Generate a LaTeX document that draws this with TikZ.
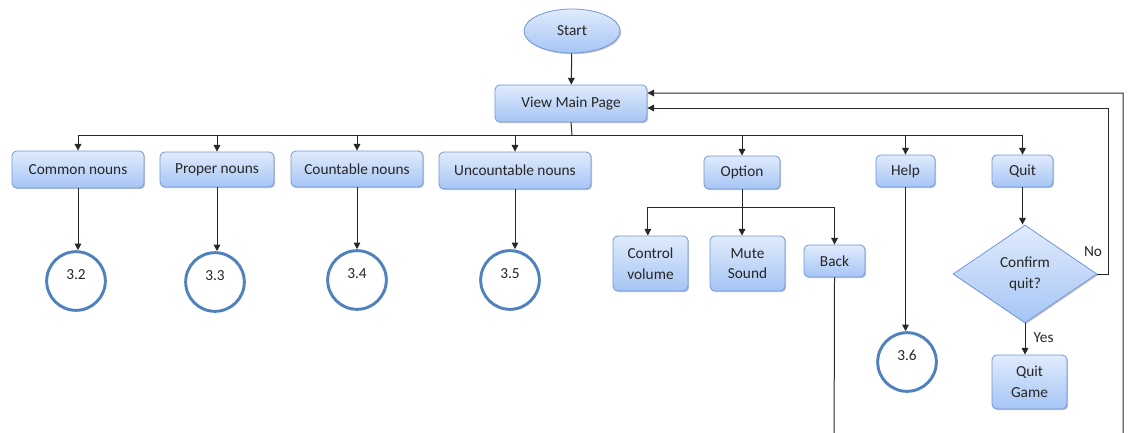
\documentclass[tikz,border=0pt]{standalone}
\usepackage{fontspec}
\setmainfont{Carlito}
\usetikzlibrary{shapes.geometric,arrows.meta,shadows,calc}

\definecolor{boxtop}{RGB}{224,235,252}
\definecolor{boxbot}{RGB}{166,197,245}
\definecolor{boxline}{RGB}{112,152,212}
\definecolor{ringline}{RGB}{79,129,189}
\definecolor{ink}{RGB}{38,38,38}
\definecolor{wire}{RGB}{40,40,40}

\begin{document}
\begin{tikzpicture}[x=0.75pt,y=-0.75pt,
  every node/.style={text=ink, font=\fontsize{11.5}{15.5}\selectfont},
  boxshape/.style={draw=boxline, line width=0.6pt, top color=boxtop, bottom color=boxbot,
    align=center, inner sep=0pt,
    drop shadow={shadow xshift=0.9pt, shadow yshift=-0.9pt, opacity=0.22, fill=black}},
  box/.style={boxshape, rounded corners=3.5pt},
  terminal/.style={boxshape, ellipse},
  decision/.style={boxshape, diamond},
  ring/.style={circle, draw=ringline, line width=2.2pt, fill=white, minimum size=44pt,
    inner sep=0pt, text height=7pt, text depth=9pt},
  wireline/.style={draw=wire, line width=0.75pt},
  arr/.style={wireline, -{Triangle[length=5pt,width=5pt]}},
  lbl/.style={inner sep=0pt}
]
\useasboundingbox (0,0) rectangle (1130,432);
\clip (0,0) rectangle (1130,432);

% main column
\node[terminal, minimum width=72pt, minimum height=33pt] (start) at (572,31) {Start};
\node[box, minimum width=114pt, minimum height=27.75pt] (view) at (571,103.5) {View Main Page};

% menu row
\node[box, minimum width=99pt, minimum height=27.75pt] (common) at (78,169.5) {Common nouns};
\node[box, minimum width=85.5pt, minimum height=26.25pt] (proper) at (217,169.5) {Proper nouns};
\node[box, minimum width=99pt, minimum height=27pt] (countable) at (357,169) {Countable nouns};
\node[box, minimum width=114pt, minimum height=27.75pt] (uncountable) at (515,170.5) {Uncountable nouns};
\node[box, minimum width=57pt, minimum height=24.75pt] (option) at (742,172.5) {Option};
\node[box, minimum width=44.25pt, minimum height=24pt] (help) at (905.5,171) {Help};
\node[box, minimum width=45.75pt, minimum height=24pt] (quit) at (1022.5,171) {Quit};

% option sub-menu
\node[box, minimum width=56.25pt, minimum height=41.25pt] (control) at (650.5,263.5) {Control\\volume};
\node[box, minimum width=56.25pt, minimum height=41.25pt] (mute) at (747.5,263.5) {Mute\\Sound};
\node[box, minimum width=45.75pt, minimum height=24pt] (back) at (834.5,261) {Back};

% quit branch
\node[decision, minimum width=108pt, minimum height=73.5pt] (confirm) at (1025,274) {Confirm\\quit?};
\node[box, minimum width=56.25pt, minimum height=40.5pt] (quitgame) at (1029.5,382) {Quit\\Game};

% off-page references
\node[ring] (c32) at (76,281) {3.2};
\node[ring] (c33) at (215,282) {3.3};
\node[ring] (c34) at (357,280) {3.4};
\node[ring] (c35) at (510,280) {3.5};
\node[ring] (c36) at (907,362) {3.6};

% connectors
\draw[arr] (start) -- (view);
\coordinate (bus) at (572,135);
\draw[wireline] (view.south) -- (bus);
\foreach \n in {common,proper,countable,uncountable,option,help,quit}
  \draw[arr] (bus) -| (\n.north);

\draw[arr] (common.south) -- (common.south |- c32.north);
\draw[arr] (proper.south) -- (proper.south |- c33.north);
\draw[arr] (countable.south) -- (countable.south |- c34.north);
\draw[arr] (uncountable.south) -- (uncountable.south |- c35.north);
\draw[arr] (help.south) -- (help.south |- c36.north);

\coordinate (obus) at (742,207);
\draw[wireline] (option.south) -- (obus);
\draw[arr] (obus) -| ([xshift=-2pt]control.north);
\draw[arr] (obus) -- (obus |- mute.north);
\draw[arr] (obus) -| (back.north);

\draw[arr] (quit.south) -- (quit.south |- confirm.north);
\draw[arr] (confirm.south) -- (confirm.south |- quitgame.north)
  node[lbl, pos=0.45, right=6pt] {Yes};

% return paths to the main page
\coordinate (noturn) at (1108,274);
\draw[arr] (confirm.east) -- (noturn) |- ($(view.east)+(0,4.5)$);
\node[lbl] (nolabel) at (1093,252) {No};

\coordinate (backdown) at (834,470);
\coordinate (backright) at (1123,470);
\draw[arr] (back.south) -- (backdown) -- (backright) |- ($(view.east)+(0,-10.5)$);
\end{tikzpicture}
\end{document}
